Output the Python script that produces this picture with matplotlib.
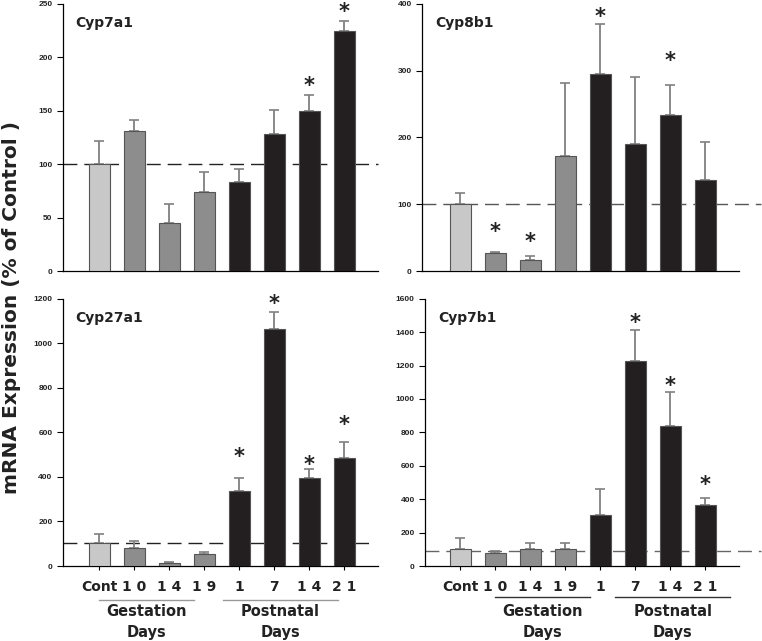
import matplotlib
matplotlib.use("Agg")
import matplotlib.pyplot as plt
import numpy as np

plt.rcParams['font.family'] = ['DejaVu Sans']
plt.rcParams['font.weight'] = 'bold'

# labels des groupes (x)
categories = ["Cont", "1 0", "1 4", "1 9", "1", "7", "1 4", "2 1"]

# valeurs (% du controle), erreurs (vers le haut)
# et hauteur des etoiles (None = pas d'etoile)
cyp7a1 = [100, 131, 45, 74, 83, 128, 150, 225]
cyp7a1_err = [22, 10, 18, 19, 13, 23, 15, 9]
cyp7a1_star = [None, None, None, None, None, None, 176, 245]

cyp8b1 = [100, 27, 17, 172, 295, 190, 233, 136]
cyp8b1_err = [17, 1, 5, 109, 75, 100, 46, 57]
cyp8b1_star = [None, 64, 49, None, 385, None, 319, None]

cyp27a1 = [103, 80, 15, 55, 338, 1065, 393, 485]
cyp27a1_err = [40, 33, 5, 8, 57, 75, 42, 73]
cyp27a1_star = [None, None, None, None, 503, 1190, 469, 648]

cyp7b1 = [100, 75, 100, 100, 305, 1225, 840, 365]
cyp7b1_err = [70, 15, 38, 40, 155, 190, 200, 45]
cyp7b1_star = [None, None, None, None, None, 1474, 1098, 505]

couleurs = ["#c8c8c8", "#8d8d8d", "#8d8d8d", "#8d8d8d",
            "#231f20", "#231f20", "#231f20", "#231f20"]

fig = plt.figure(figsize=(7.62, 6.41), dpi=100)


def panneau(rect, vals, errs, stars, titre, ymax, pas, xlim, ref, dash_col, dash_ext, labels):
    ax = fig.add_axes(rect)
    x = np.arange(len(vals))
    ax.bar(x, vals, width=0.6, color=couleurs, edgecolor="#555555", linewidth=0.8, zorder=3)
    eb = ax.errorbar(x, vals, yerr=[np.zeros(len(vals)), errs], fmt="none",
                     ecolor="#808080", elinewidth=1.3, capsize=3.5, capthick=1.2, zorder=2)
    for cap in eb[1]:
        cap.set_color("#333333")
    for i in range(len(vals)):
        if stars[i] is not None:
            ax.text(x[i], stars[i] - ymax * 0.012, "*", ha="center", va="center",
                    fontsize=15, fontweight="bold", color="#222222", clip_on=False)
    ax.axhline(ref, xmin=0, xmax=dash_ext, color=dash_col, linestyle=(0, (10, 5)),
               linewidth=1.0, clip_on=False, zorder=1)
    ax.set_xlim(xlim)
    ax.set_ylim(0, ymax)
    ax.set_yticks(np.arange(0, ymax + 1, pas))
    ax.tick_params(axis="y", length=4, width=0.8, direction="out")
    for lab in ax.get_yticklabels():
        lab.set_fontfamily("Liberation Sans")
        lab.set_fontsize(6)
        lab.set_fontweight("bold")
        lab.set_color("#222222")
    for s in ["top", "right"]:
        ax.spines[s].set_visible(False)
    ax.spines["left"].set_linewidth(0.9)
    ax.spines["bottom"].set_linewidth(0.9)
    ax.text(0.04, 0.955, titre, transform=ax.transAxes, ha="left", va="top",
            fontsize=10, fontweight="bold", color="#222222")
    if labels:
        ax.set_xticks(x)
        ax.set_xticklabels(categories, fontsize=10, fontweight="bold", color="#222222")
        ax.tick_params(axis="x", length=3, width=0.8, pad=7)
    else:
        ax.set_xticks([])
    return ax


ax1 = panneau([0.0827, 0.577, 0.4133, 0.417], cyp7a1, cyp7a1_err, cyp7a1_star, "Cyp7a1",
              250, 50, (-1.03, 7.97), 100, "#222222", 1.0, False)
ax2 = panneau([0.554, 0.577, 0.416, 0.417], cyp8b1, cyp8b1_err, cyp8b1_star, "Cyp8b1",
              400, 100, (-1.086, 7.97), 100, "#555555", 1.07, False)
ax3 = panneau([0.0827, 0.117, 0.4133, 0.417], cyp27a1, cyp27a1_err, cyp27a1_star, "Cyp27a1",
              1200, 200, (-1.03, 7.97), 103, "#222222", 0.98, True)
ax4 = panneau([0.558, 0.117, 0.412, 0.417], cyp7b1, cyp7b1_err, cyp7b1_star, "Cyp7b1",
              1600, 200, (-1.0, 7.97), 90, "#666666", 1.07, True)

# lignes et textes des groupes (Gestation / Postnatal)
groupes = [
    (ax3, -0.127, [(0.0, 2.71), (3.54, 6.83)], "#999999"),
    (ax4, -0.116, [(1.0, 3.71), (4.43, 7.71)], "#333333"),
]
for ax, y_ligne, segs, col in groupes:
    tr = ax.get_xaxis_transform()
    for (a, b), (l1, l2) in zip(segs, [("Gestation", "Days"), ("Postnatal", "Days")]):
        ax.plot([a, b], [y_ligne, y_ligne], transform=tr, color=col,
                linewidth=1.0, clip_on=False)
        ax.text((a + b) / 2, -0.172, l1, transform=tr, ha="center", va="center",
                fontsize=10.5, fontweight="bold", color="#222222")
        ax.text((a + b) / 2, -0.247, l2, transform=tr, ha="center", va="center",
                fontsize=10.5, fontweight="bold", color="#222222")

fig.text(0.015, 0.52, "mRNA Expression (% of Control )", rotation=90, ha="center", va="center",
         fontsize=14.5, fontweight="bold", color="#222222")

fig.savefig("out.png", dpi=100)
